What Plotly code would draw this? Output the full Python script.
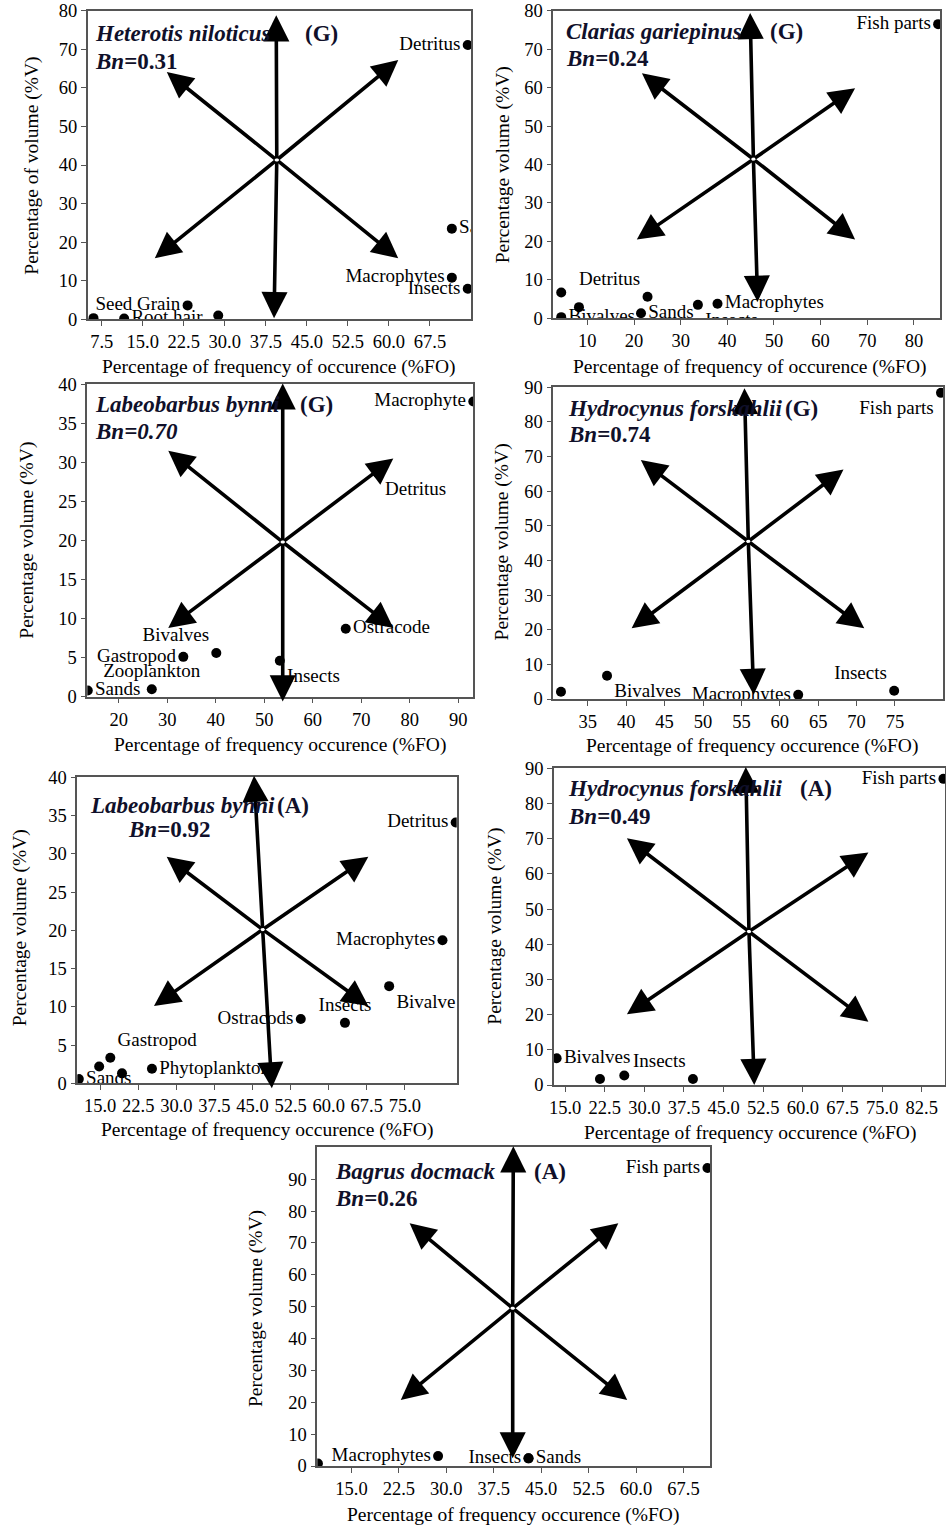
import plotly.graph_objects as go

W, H = 946, 1527
FONT = "Liberation Serif, Times New Roman, serif"
TITLE_COLOR = "#10102a"

# ---------------- data ----------------
# Panel 1: Heterotis niloticus (G)
het_items = ["Detritus", "Sands", "Macrophytes", "Insects", "Seed Grain", "", "Root hair", ""]
het_fo = [74.4, 71.5, 71.5, 74.4, 23.2, 28.8, 11.6, 6.0]
het_vol = [71.1, 23.5, 10.8, 7.9, 3.6, 1.0, 0.2, 0.3]
het_xticks = [7.5, 15.0, 22.5, 30.0, 37.5, 45.0, 52.5, 60.0, 67.5]
het_yticks = [0, 10, 20, 30, 40, 50, 60, 70, 80]
het_center = [39.5, 41.3]
het_tips_x = [39.4, 39.0, 19.4, 61.7, 17.2, 61.7]
het_tips_y = [78.8, 0.3, 64.1, 67.2, 15.8, 15.8]

# Panel 2: Clarias gariepinus (G)
cla_items = ["Fish parts", "Detritus", "", "", "Bivalves", "Sands", "Insects", "Macrophytes"]
cla_fo = [85.2, 22.9, 4.4, 8.2, 4.4, 21.5, 33.7, 37.9]
cla_vol = [76.5, 5.6, 6.7, 2.9, 0.3, 1.3, 3.5, 3.8]
cla_xticks = [10, 20, 30, 40, 50, 60, 70, 80]
cla_yticks = [0, 10, 20, 30, 40, 50, 60, 70, 80]
cla_center = [45.6, 41.4]
cla_tips_x = [44.9, 46.5, 21.7, 67.4, 20.6, 67.4]
cla_tips_y = [79.4, 4.3, 63.7, 59.8, 20.5, 20.5]

# Panel 3: Labeobarbus bynni (G)
lbg_items = ["Macrophyte", "Detritus", "Ostracode", "Bivalves", "Gastropod", "Insects", "Zooplankton", "Sands"]
lbg_fo = [93.1, 73.4, 66.8, 40.1, 33.3, 53.2, 26.8, 13.6]
lbg_vol = [37.8, 28.6, 8.7, 5.6, 5.1, 4.6, 0.95, 0.8]
lbg_xticks = [20, 30, 40, 50, 60, 70, 80, 90]
lbg_yticks = [0, 5, 10, 15, 20, 25, 30, 35, 40]
lbg_center = [53.8, 19.8]
lbg_tips_x = [53.8, 53.8, 30.2, 76.6, 30.2, 76.6]
lbg_tips_y = [40.1, -0.6, 31.5, 30.5, 8.8, 8.8]

# Panel 4: Hydrocynus forskahlii (G)
hfg_items = ["Fish parts", "Bivalves", "Detritus", "Macrophytes", "Insects"]
hfg_fo = [81.0, 37.5, 31.5, 62.4, 74.9]
hfg_vol = [88.4, 6.7, 2.1, 1.2, 2.4]
hfg_xticks = [35, 40, 45, 50, 55, 60, 65, 70, 75]
hfg_yticks = [0, 10, 20, 30, 40, 50, 60, 70, 80, 90]
hfg_center = [55.9, 45.5]
hfg_tips_x = [55.4, 56.6, 41.9, 68.3, 40.7, 71.0]
hfg_tips_y = [89.7, 1.2, 69.0, 66.3, 20.4, 20.4]

# Panel 5: Labeobarbus bynni (A)
lba_items = ["Detritus", "Macrophytes", "Bivalve", "Insects", "Ostracods", "Gastropod", "", "", "Phytoplankton", "Sands"]
lba_fo = [85.0, 82.4, 71.9, 63.2, 54.5, 17.0, 14.8, 19.3, 25.2, 10.8]
lba_vol = [34.1, 18.7, 12.7, 7.9, 8.4, 3.35, 2.2, 1.3, 1.9, 0.55]
lba_xticks = [15.0, 22.5, 30.0, 37.5, 45.0, 52.5, 60.0, 67.5, 75.0]
lba_yticks = [0, 5, 10, 15, 20, 25, 30, 35, 40]
lba_center = [47.0, 20.1]
lba_tips_x = [45.3, 48.8, 28.1, 67.8, 25.6, 67.8]
lba_tips_y = [40.2, -0.65, 29.6, 29.6, 10.1, 10.1]

# Panel 6: Hydrocynus forskahlii (A)
hfa_items = ["Fish parts", "Bivalves", "Detritus", "", "Insects"]
hfa_fo = [86.6, 13.4, 21.6, 26.2, 39.2]
hfa_vol = [87.0, 7.6, 1.7, 2.7, 1.7]
hfa_xticks = [15.0, 22.5, 30.0, 37.5, 45.0, 52.5, 60.0, 67.5, 75.0, 82.5]
hfa_yticks = [0, 10, 20, 30, 40, 50, 60, 70, 80, 90]
hfa_center = [49.8, 43.6]
hfa_tips_x = [49.2, 50.8, 26.7, 72.4, 26.7, 72.4]
hfa_tips_y = [90.4, 0.0, 70.1, 66.1, 20.1, 18.0]

# Panel 7: Bagrus docmack (A)
bag_items = ["Fish parts", "Macrophytes", "Insects", "Sands", ""]
bag_fo = [71.3, 28.7, 43.0, 43.0, 9.7]
bag_vol = [93.5, 3.1, 2.4, 2.4, 0.8]
bag_xticks = [15.0, 22.5, 30.0, 37.5, 45.0, 52.5, 60.0, 67.5]
bag_yticks = [0, 10, 20, 30, 40, 50, 60, 70, 80, 90]
bag_center = [40.5, 49.5]
bag_tips_x = [40.6, 40.5, 24.2, 57.2, 22.8, 58.6]
bag_tips_y = [100.3, 2.4, 76.2, 76.2, 20.7, 20.7]

# ---------------- layout / style settings ----------------
YT_VOL = "Percentage volume (%V)"
XT_FO = "Percentage of frequency occurence (%FO)"

panels = [
    dict(items=het_items, fo=het_fo, vol=het_vol, xticks=het_xticks, yticks=het_yticks,
         center=het_center, tx=het_tips_x, ty=het_tips_y,
         pos=["middle left", "middle right", "middle left", "middle left", "middle left",
              "middle right", "middle right", "middle right"],
         xr=[4.94, 75.0], yr=[0, 80], xfmt="{:.1f}", box=(87.7, 10.7, 471, 319.3),
         ytitle="Percentage of volume (%V)", xtitle="Percentage of frequency of occurence (%FO)",
         ytxy=(32, 165.7), xtxy=(279, 366.7),
         species="<b><i>Heterotis niloticus</i></b>", sp=(0.015, 0.927),
         tag="<b>(G)</b>", tagx=0.562, bn="<b><i>Bn</i>=0.31</b>", bnxy=(0.015, 0.835)),
    dict(items=cla_items, fo=cla_fo, vol=cla_vol, xticks=cla_xticks, yticks=cla_yticks,
         center=cla_center, tx=cla_tips_x, ty=cla_tips_y,
         pos=["middle left", "top left", "middle right", "middle right", "middle right",
              "middle right", "bottom right", "middle right"],
         xr=[2.7, 85.6], yr=[0, 80], xfmt="{:.0f}", box=(553.3, 10.7, 940, 318.3),
         ytitle=YT_VOL, xtitle="Percentage of frequency of occurence (%FO)",
         ytxy=(503.3, 165), xtxy=(750, 366.7),
         species="<b><i>Clarias gariepinus</i></b>", sp=(0.028, 0.932),
         tag="<b>(G)</b>", tagx=0.556, bn="<b><i>Bn</i>=0.24</b>", bnxy=(0.028, 0.845)),
    dict(items=lbg_items, fo=lbg_fo, vol=lbg_vol, xticks=lbg_xticks, yticks=lbg_yticks,
         center=lbg_center, tx=lbg_tips_x, ty=lbg_tips_y,
         pos=["middle left", "bottom right", "middle right", "top left", "middle left",
              "bottom right", "top center", "middle right"],
         xr=[13.5, 93.1], yr=[0, 40], xfmt="{:.0f}", box=(87.3, 384.3, 473.3, 696.7),
         ytitle=YT_VOL, xtitle=XT_FO, ytxy=(26.7, 540), xtxy=(280, 745),
         species="<b><i>Labeobarbus bynni</i></b>", sp=(0.014, 0.934),
         tag="<b>(G)</b>", tagx=0.547, bn="<b><i>Bn=0.70</i></b>", bnxy=(0.014, 0.848)),
    dict(items=hfg_items, fo=hfg_fo, vol=hfg_vol, xticks=hfg_xticks, yticks=hfg_yticks,
         center=hfg_center, tx=hfg_tips_x, ty=hfg_tips_y,
         pos=["bottom left", "bottom right", "bottom right", "middle left", "top left"],
         xr=[30.5, 81.3], yr=[0, 90], xfmt="{:.0f}", box=(553.3, 387.3, 943.3, 699),
         ytitle=YT_VOL, xtitle=XT_FO, ytxy=(501.7, 541.7), xtxy=(751.7, 746),
         species="<b><i>Hydrocynus forskahlii</i></b>", sp=(0.032, 0.933),
         tag="<b>(G)</b>", tagx=0.59, bn="<b><i>Bn</i>=0.74</b>", bnxy=(0.032, 0.847)),
    dict(items=lba_items, fo=lba_fo, vol=lba_vol, xticks=lba_xticks, yticks=lba_yticks,
         center=lba_center, tx=lba_tips_x, ty=lba_tips_y,
         pos=["middle left", "middle left", "bottom right", "top center", "middle left",
              "top right", "middle right", "middle right", "middle right", "middle right"],
         xr=[10.5, 85.2], yr=[0, 40], xfmt="{:.1f}", box=(77.3, 777.3, 456.7, 1083.3),
         ytitle=YT_VOL, xtitle=XT_FO, ytxy=(20, 928.3), xtxy=(266.7, 1130),
         species="<b><i>Labeobarbus bynni</i></b>", sp=(0.029, 0.909),
         tag="<b>(A)</b>", tagx=0.521, bn="<b><i>Bn</i>=0.92</b>", bnxy=(0.128, 0.828)),
    dict(items=hfa_items, fo=hfa_fo, vol=hfa_vol, xticks=hfa_xticks, yticks=hfa_yticks,
         center=hfa_center, tx=hfa_tips_x, ty=hfa_tips_y,
         pos=["middle left", "middle right", "bottom right", "middle right", "top left"],
         xr=[12.9, 86.9], yr=[0, 90], xfmt="{:.1f}", box=(554, 768.3, 945, 1085),
         ytitle=YT_VOL, xtitle=XT_FO, ytxy=(495, 926.7), xtxy=(750, 1133.3),
         species="<b><i>Hydrocynus forskahlii</i></b>", sp=(0.030, 0.937),
         tag="<b>(A)</b>", tagx=0.623, bn="<b><i>Bn</i>=0.49</b>", bnxy=(0.030, 0.847)),
    dict(items=bag_items, fo=bag_fo, vol=bag_vol, xticks=bag_xticks, yticks=bag_yticks,
         center=bag_center, tx=bag_tips_x, ty=bag_tips_y,
         pos=["middle left", "middle left", "middle left", "middle right", "middle right"],
         xr=[9.6, 71.7], yr=[0, 100], xfmt="{:.1f}", box=(317.3, 1147.3, 710, 1466),
         ytitle=YT_VOL, xtitle=XT_FO, ytxy=(256.7, 1308.3), xtxy=(513.3, 1515),
         species="<b><i>Bagrus docmack</i></b>", sp=(0.041, 0.923),
         tag="<b>(A)</b>", tagx=0.546, bn="<b><i>Bn</i>=0.26</b>", bnxy=(0.041, 0.840)),
]

fig = go.Figure()
layout = dict(template="none", width=W, height=H, margin=dict(l=0, r=0, t=0, b=0, pad=0),
              paper_bgcolor="white", plot_bgcolor="white", showlegend=False)
annotations = []

for i, p in enumerate(panels):
    n = "" if i == 0 else str(i + 1)
    xref, yref = "x" + n, "y" + n
    x0, y0, x1, y1 = p["box"]
    axis_common = dict(showline=True, mirror=True, linecolor="#555", linewidth=1.5,
                       ticks="outside", ticklen=5, tickcolor="#555", tickwidth=1.2,
                       showgrid=False, zeroline=False, automargin=False,
                       tickfont=dict(family=FONT, size=18.5, color="black"))
    layout["xaxis" + n] = dict(domain=[x0 / W, x1 / W], range=p["xr"], anchor=yref,
                               tickvals=p["xticks"],
                               ticktext=[p["xfmt"].format(v) for v in p["xticks"]],
                               **axis_common)
    layout["yaxis" + n] = dict(domain=[1 - y1 / H, 1 - y0 / H], range=p["yr"], anchor=xref,
                               tickvals=p["yticks"], ticktext=[str(v) for v in p["yticks"]],
                               **axis_common)

    fig.add_trace(go.Scatter(
        x=p["fo"], y=p["vol"], mode="markers+text", text=p["items"],
        textposition=p["pos"], cliponaxis=True,
        textfont=dict(family=FONT, size=19, color="black"),
        marker=dict(size=10, color="black"),
        xaxis=xref, yaxis=yref, hoverinfo="skip"))

    # Costello-style arrows from the centre to each tip
    cx, cy = p["center"]
    for tx, ty in zip(p["tx"], p["ty"]):
        annotations.append(dict(x=tx, y=ty, ax=cx, ay=cy, xref=xref, yref=yref,
                                axref=xref, ayref=yref, text="", showarrow=True,
                                arrowhead=2, arrowsize=1.45, arrowwidth=3.6,
                                arrowcolor="black"))

    tfont = dict(family=FONT, size=23, color=TITLE_COLOR)
    annotations.append(dict(x=p["sp"][0], y=p["sp"][1], xref=xref + " domain", yref=yref + " domain",
                            text=p["species"], showarrow=False, xanchor="left", yanchor="middle",
                            font=tfont))
    annotations.append(dict(x=p["tagx"], y=p["sp"][1], xref=xref + " domain", yref=yref + " domain",
                            text=p["tag"], showarrow=False, xanchor="left", yanchor="middle",
                            font=tfont))
    annotations.append(dict(x=p["bnxy"][0], y=p["bnxy"][1], xref=xref + " domain", yref=yref + " domain",
                            text=p["bn"], showarrow=False, xanchor="left", yanchor="middle",
                            font=tfont))

    afont = dict(family=FONT, size=19.5, color="black")
    annotations.append(dict(x=p["ytxy"][0] / W, y=1 - p["ytxy"][1] / H, xref="paper", yref="paper",
                            text=p["ytitle"], textangle=-90, showarrow=False,
                            xanchor="center", yanchor="middle", font=afont))
    annotations.append(dict(x=p["xtxy"][0] / W, y=1 - p["xtxy"][1] / H, xref="paper", yref="paper",
                            text=p["xtitle"], showarrow=False,
                            xanchor="center", yanchor="middle", font=afont))

layout["annotations"] = annotations
fig.update_layout(**layout)
fig.write_html(
    "out.html",
    config={"displayModeBar": False},
    post_script="document.body.style.margin='0px';document.body.style.overflow='hidden';"
                "document.documentElement.style.overflow='hidden';",
)
